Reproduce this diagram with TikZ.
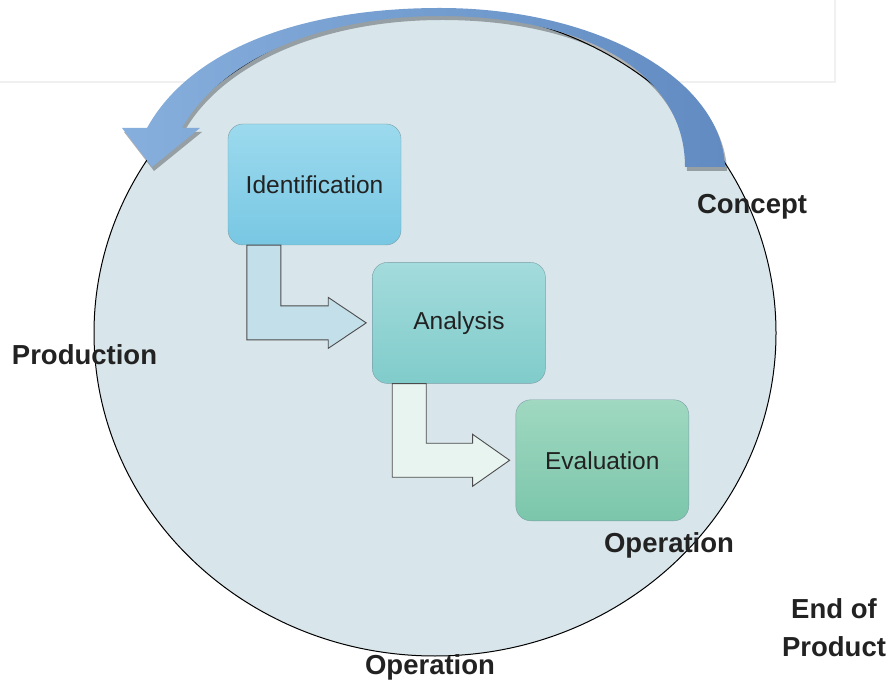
\documentclass[tikz,border=0pt]{standalone}
\usepackage{fontspec}
\setmainfont{Liberation Sans}
\usetikzlibrary{positioning,calc,shapes.geometric}

\definecolor{lifefill}{HTML}{D8E5EA}
\definecolor{arcleft}{HTML}{86AFDD}
\definecolor{arcright}{HTML}{628BC2}
\definecolor{boxedge}{HTML}{7A9EA6}
\definecolor{identtop}{HTML}{9CDAEE}
\definecolor{identbot}{HTML}{78C7E3}
\definecolor{analtop}{HTML}{A4DBDC}
\definecolor{analbot}{HTML}{80CCCB}
\definecolor{evaltop}{HTML}{A0D8C1}
\definecolor{evalbot}{HTML}{7BC6AB}
\definecolor{stepone}{HTML}{C2DFEA}
\definecolor{steptwo}{HTML}{E8F4F0}
\definecolor{inktext}{HTML}{222222}

\tikzset{
  phase/.style={draw=boxedge, rounded corners=15pt, minimum width=173pt, minimum height=121pt,
    inner sep=0pt, text=inktext, font=\fontsize{24.5}{28}\selectfont},
  stage/.style={font=\bfseries\fontsize{27.5}{38}\selectfont, text=inktext, align=center, inner sep=0pt},
  bentarrow/.style={draw=black!70, line width=0.9pt, line join=miter}
}

\begin{document}
\begin{tikzpicture}[x=1pt, y=1pt]
    \useasboundingbox (0,0) rectangle (891,683);
    \draw[black!6, line width=1.5pt] (0,601) -- (835,601) -- (835,683);

    \node[ellipse, draw, fill=lifefill, line width=1pt, minimum width=682pt, minimum height=646pt, inner sep=0pt] (life) at (435,350) {};

    \shade[left color=arcleft, right color=arcright,
      preaction={fill=black, opacity=.3, transform canvas={shift={(2,-4)}}}]
      (725,516) .. controls (722,604) and (597,675) .. (440,675)
      .. controls (300,675) and (190,633) .. (147,555)
      -- (122,555) -- (152,516) -- (200,555) -- (182,555)
      .. controls (220,623) and (320,667) .. (440,667)
      .. controls (580,667) and (685,613) .. (685,516) -- cycle;

    \node[stage] (concept) at (752,476) {Concept};
    \node[stage] (production) at (84.5,328) {Production};
    \node[stage] (operation) at (669,138) {Operation};
    \node[stage] (endof) at (834,55) {End of\\Product};
    \node[stage] (operation2) at (430,16) {Operation};

    \node[phase, top color=identtop, bottom color=identbot] (ident) at (314.5,498.5) {Identification};
    \node[phase, top color=analtop, bottom color=analbot, below right=17pt and -29pt of ident] (anal) {Analysis};
    \node[phase, top color=evaltop, bottom color=evalbot, below right=16pt and -30pt of anal] (eval) {Evaluation};

    \draw[bentarrow, fill=stepone] ($(ident.south west)+(19,0)$) |- ($(anal.west)+(-44,-17)$) -- ++(0,-8.5)
      -- ($(anal.west)+(-6,0)$) -- ($(anal.west)+(-44,25.5)$) -- ++(0,-8.5) -| ($(ident.south west)+(53,0)$) -- cycle;
    \draw[bentarrow, fill=steptwo] ($(anal.south west)+(20,0)$) |- ($(eval.west)+(-43,-17)$) -- ++(0,-9)
      -- ($(eval.west)+(-6,0)$) -- ($(eval.west)+(-43,26)$) -- ++(0,-9) -| ($(anal.south west)+(54,0)$) -- cycle;
\end{tikzpicture}
\end{document}
